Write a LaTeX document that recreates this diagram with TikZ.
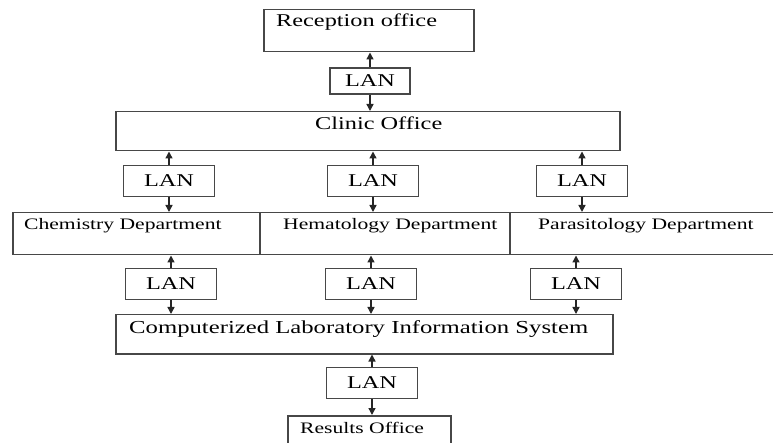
\documentclass[tikz,border=0pt]{standalone}
\usepackage{fontspec}
\setmainfont{Liberation Serif}[FakeStretch=1.35]
\usetikzlibrary{arrows.meta}

\tikzset{
  officebox/.style={draw=black!72, line width=1.5pt, anchor=north west, inner sep=0pt},
  lanbox/.style={draw=black!72, line width=1.5pt, inner sep=0pt, minimum width=91, minimum height=31,
    font=\fontsize{18}{20}\selectfont},
  bigtext/.style={anchor=base west, inner sep=0pt, font=\fontsize{18}{20}\selectfont},
  smalltext/.style={anchor=base west, inner sep=0pt, font=\fontsize{16}{18}\selectfont},
  link/.style={draw=black!85, line width=1.4pt, -{Triangle[length=7pt,width=7pt]}}
}

\begin{document}
\begin{tikzpicture}[x=1pt,y=-1pt]
\clip (0,0) rectangle (773,443);

% boxes
\node[officebox, minimum width=210, minimum height=42] (reception) at (263,9) {};
\node[officebox, minimum width=504, minimum height=39] (clinic) at (115,111) {};
\node[officebox, minimum width=247, minimum height=42] (chem) at (12,212) {};
\node[officebox, minimum width=250, minimum height=42] (hema) at (259,212) {};
\node[officebox, minimum width=300, minimum height=42] (para) at (509,212) {};
\node[officebox, minimum width=497, minimum height=39] (clis) at (115,314) {};
\node[officebox, minimum width=163, minimum height=50] (results) at (287,415) {};

% labels of the boxes
\node[bigtext] (receptiontext) at (276,27) {Reception office};
\node[bigtext] (clinictext) at (315,130) {Clinic Office};
\node[smalltext] (chemtext) at (24,230) {Chemistry Department};
\node[smalltext] (hematext) at (283,230) {Hematology Department};
\node[smalltext] (paratext) at (538,230) {Parasitology Department};
\node[bigtext, font=\fontsize{18.3}{20}\selectfont] (clistext) at (129,334) {Computerized Laboratory Information System};
\node[smalltext] (resultstext) at (300,433) {Results Office};

% LAN links
\node[lanbox, minimum width=80, minimum height=26] (lan0) at (370,81) {LAN};
\node[lanbox] (lan1) at (169,181) {LAN};
\node[lanbox] (lan2) at (373,181) {LAN};
\node[lanbox] (lan3) at (582,181) {LAN};
\node[lanbox] (lan4) at (171,284) {LAN};
\node[lanbox] (lan5) at (371,284) {LAN};
\node[lanbox] (lan6) at (576,284) {LAN};
\node[lanbox] (lan7) at (372,383) {LAN};

% arrows
\draw[link] (lan0.north) -- (lan0.north |- reception.south);
\draw[link] (lan0.south) -- (lan0.south |- clinic.north);

\draw[link] (lan1.north) -- (lan1.north |- clinic.south);
\draw[link] (lan2.north) -- (lan2.north |- clinic.south);
\draw[link] (lan3.north) -- (lan3.north |- clinic.south);
\draw[link] (lan1.south) -- (lan1.south |- chem.north);
\draw[link] (lan2.south) -- (lan2.south |- hema.north);
\draw[link] (lan3.south) -- (lan3.south |- para.north);

\draw[link] (lan4.north) -- (lan4.north |- chem.south);
\draw[link] (lan5.north) -- (lan5.north |- hema.south);
\draw[link] (lan6.north) -- (lan6.north |- para.south);
\draw[link] (lan4.south) -- (lan4.south |- clis.north);
\draw[link] (lan5.south) -- (lan5.south |- clis.north);
\draw[link] (lan6.south) -- (lan6.south |- clis.north);

\draw[link] (lan7.north) -- (lan7.north |- clis.south);
\draw[link] (lan7.south) -- (lan7.south |- results.north);
\end{tikzpicture}
\end{document}
